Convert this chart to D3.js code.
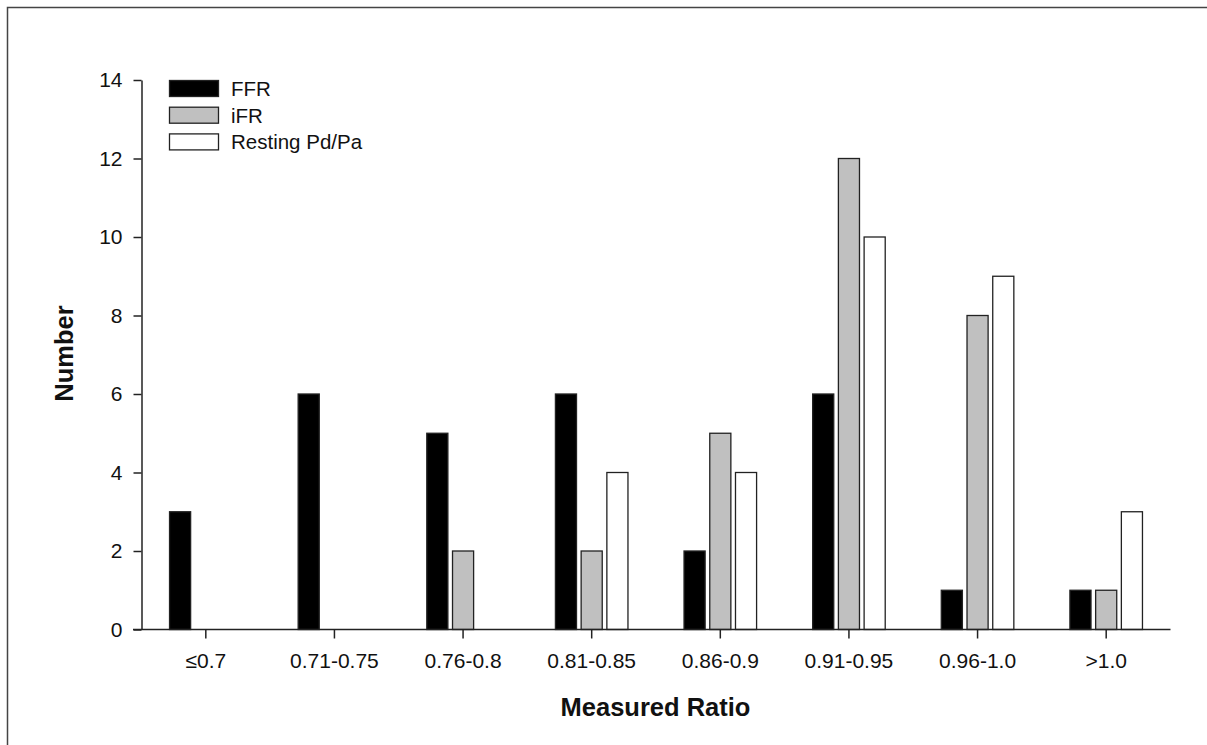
<!DOCTYPE html>
<html><head><meta charset="utf-8">
<script src="https://cdn.jsdelivr.net/npm/d3@7"></script>
<style>body{margin:0;background:#fff}svg{display:block;font-family:"Liberation Sans",Arial,sans-serif}</style>
</head><body>
<script>
const categories = ["\u22640.7","0.71-0.75","0.76-0.8","0.81-0.85","0.86-0.9","0.91-0.95","0.96-1.0",">1.0"];
const seriesNames = ["FFR","iFR","Resting Pd/Pa"];
const ffr = [3,6,5,6,2,6,1,1];
const ifr = [0,0,2,2,5,12,8,1];
const resting = [0,0,0,4,4,10,9,3];
const yTicks = [0,2,4,6,8,10,12,14];
const seriesValues = [ffr, ifr, resting];
const fills = ["#000000","#c0c0c0","#ffffff"];

const W=1207,H=745;
const svg=d3.select("body").append("svg").attr("width",W).attr("height",H);
svg.append("rect").attr("x",7.5).attr("y",7.5).attr("width",1230).attr("height",780)
  .attr("fill","#fff").attr("stroke","#444").attr("stroke-width",1.5);

const x=d3.scaleBand().domain(categories).range([141.5,1170.5]).padding(0);
const y=d3.scaleLinear().domain([0,14]).range([629.5,80]);
const slot=x.bandwidth()/5;
const xs=d3.scaleBand().domain(d3.range(3)).range([-1.5*slot,1.5*slot]).paddingInner(0.18).paddingOuter(0.09);

const g=svg.append("g");
seriesValues.forEach((vals,si)=>{
  g.selectAll(null).data(vals.map((v,i)=>({v,c:categories[i]})).filter(d=>d.v>0)).enter().append("rect")
    .attr("x",d=>x(d.c)+x.bandwidth()/2+xs(si))
    .attr("width",xs.bandwidth())
    .attr("y",d=>y(d.v))
    .attr("height",d=>y(0)-y(d.v))
    .attr("fill",fills[si]).attr("stroke","#222").attr("stroke-width",1.3);
});

// y axis
const ya=svg.append("g").attr("transform","translate(141.5,0)")
  .call(d3.axisLeft(y).tickValues(yTicks).tickSize(8).tickPadding(11).tickSizeOuter(0));
ya.select(".domain").attr("stroke","#222").attr("stroke-width",1.5);
ya.selectAll(".tick line").attr("stroke","#222").attr("stroke-width",1.5);
ya.selectAll(".tick text").attr("font-size",21).attr("fill","#111").attr("font-family","Liberation Sans, Arial, sans-serif");

// x axis
const xa=svg.append("g").attr("transform","translate(0,629.5)")
  .call(d3.axisBottom(x).tickSize(9).tickPadding(16).tickSizeOuter(0));
xa.select(".domain").attr("d","M133,0H1170.5").attr("stroke","#222").attr("stroke-width",1.5);
xa.selectAll(".tick line").attr("stroke","#222").attr("stroke-width",1.5);
xa.selectAll(".tick text").attr("font-size",21).attr("fill","#111").attr("font-family","Liberation Sans, Arial, sans-serif")
  .attr("y",38).attr("dy",0);

// titles
svg.append("text").attr("x",655.5).attr("y",716).attr("text-anchor","middle")
  .attr("font-size",25.5).attr("font-weight","bold").attr("fill","#111").text("Measured Ratio");
svg.append("text").attr("transform","translate(73,353.5) rotate(-90)").attr("text-anchor","middle")
  .attr("font-size",25.5).attr("font-weight","bold").attr("fill","#111").text("Number");

// legend
const leg=svg.append("g");
seriesNames.forEach((n,i)=>{
  leg.append("rect").attr("x",169.5).attr("y",80.5+i*26.7).attr("width",49).attr("height",16)
    .attr("fill",fills[i]).attr("stroke","#222").attr("stroke-width",1.3);
  leg.append("text").attr("x",231).attr("y",96+i*26.7).attr("font-size",20.5).attr("fill","#111").text(n);
});
</script>
</body></html>
